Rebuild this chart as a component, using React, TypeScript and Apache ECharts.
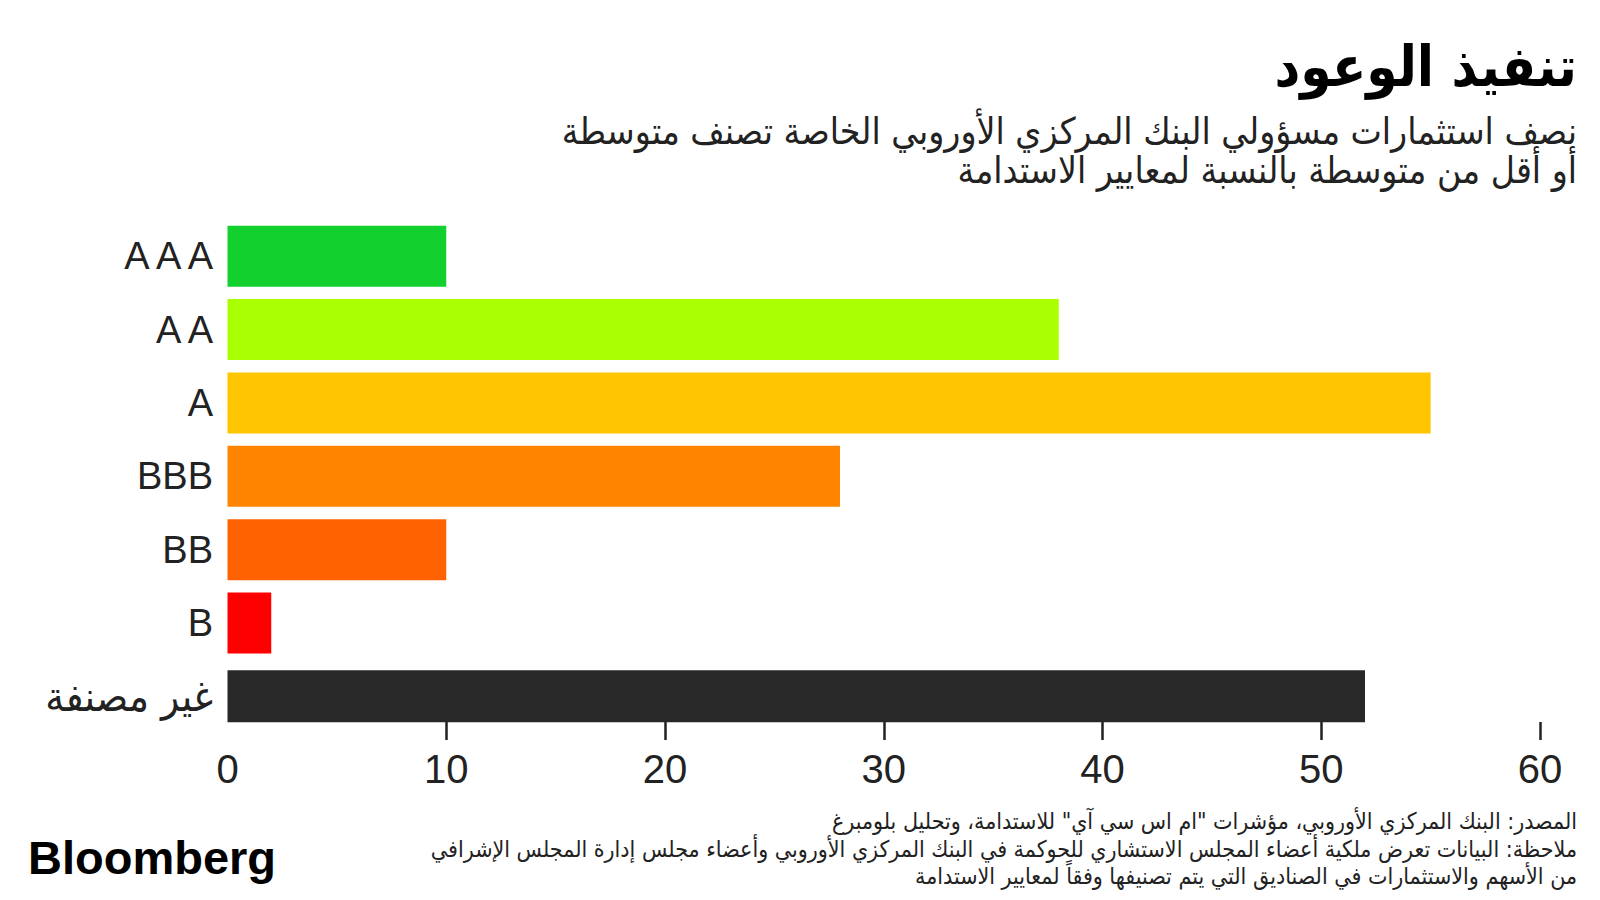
import React, { useEffect, useRef } from "react";
import * as echarts from "echarts";

const categories = ["A A A", "A A", "A", "BBB", "BB", "B", "غير مصنفة"];
const values = [10, 38, 55, 28, 10, 2, 52];
const barColors = ["#12d12f", "#aaff00", "#ffc500", "#ff8500", "#ff6200", "#ff0000", "#282828"];
const unratedCategory = "غير مصنفة";
const tickValues = [0, 10, 20, 30, 40, 50, 60];

const titleText = "تنفيذ الوعود";
const subtitleLines = [
  "نصف استثمارات مسؤولي البنك المركزي الأوروبي الخاصة تصنف متوسطة",
  "أو أقل من متوسطة بالنسبة لمعايير الاستدامة",
];
const footerLines = [
  "المصدر: البنك المركزي الأوروبي، مؤشرات \"ام اس سي آي\" للاستدامة، وتحليل بلومبرغ",
  "ملاحظة: البيانات تعرض ملكية أعضاء المجلس الاستشاري للحوكمة في البنك المركزي الأوروبي وأعضاء مجلس إدارة المجلس الإشرافي",
  "من الأسهم والاستثمارات في الصناديق التي يتم تصنيفها وفقاً لمعايير الاستدامة",
];

const AR_FONT = "'DejaVu Sans Condensed', 'DejaVu Sans', sans-serif";
const LAT_FONT = "'Liberation Sans', Arial, sans-serif";

export default function App() {
  const ref = useRef<HTMLDivElement>(null);
  useEffect(() => {
    document.body.style.margin = "0";
    if (!ref.current) return;
    const chart = echarts.init(ref.current, null, { renderer: "svg" });

    const ratedData = categories.map((c, i) =>
      c === unratedCategory ? "-" : { value: values[i], itemStyle: { color: barColors[i] } }
    );
    const unratedData = categories.map((c, i) =>
      c === unratedCategory ? { value: values[i], itemStyle: { color: barColors[i] } } : "-"
    );

    const graphics: any[] = [
      {
        type: "text",
        x: 1577,
        y: 66,
        style: {
          text: titleText,
          font: `bold 56px ${AR_FONT}`,
          fill: "#000",
          textAlign: "right",
          textVerticalAlign: "middle",
        },
      },
      ...subtitleLines.map((t, i) => ({
        type: "text",
        x: 1577,
        y: 131 + i * 39,
        style: {
          text: t,
          font: `37px ${AR_FONT}`,
          fill: "#222",
          textAlign: "right",
          textVerticalAlign: "middle",
        },
      })),
      ...footerLines.map((t, i) => ({
        type: "text",
        x: 1577,
        y: 821 + i * 27.5,
        style: {
          text: t,
          font: `23px ${AR_FONT}`,
          fill: "#222",
          textAlign: "right",
          textVerticalAlign: "middle",
        },
      })),
      {
        type: "text",
        x: 28,
        y: 857,
        style: {
          text: "Bloomberg",
          font: `bold 47px ${LAT_FONT}`,
          fill: "#000",
          textAlign: "left",
          textVerticalAlign: "middle",
        },
      },
    ];

    chart.setOption({
      animation: false,
      backgroundColor: "#fff",
      grid: { left: 227.5, right: 60, top: 219.6, bottom: 167, containLabel: false },
      xAxis: {
        type: "value",
        min: tickValues[0],
        max: tickValues[tickValues.length - 1],
        interval: 10,
        offset: -11,
        axisLine: { show: false },
        splitLine: { show: false },
        axisTick: {
          show: true,
          length: 18,
          lineStyle: { color: "#222", width: 2.5 },
          customValues: tickValues.slice(1),
        },
        axisLabel: {
          margin: 27,
          color: "#222",
          fontSize: 40,
          fontFamily: LAT_FONT,
          customValues: tickValues,
        },
      },
      yAxis: [
        {
          type: "category",
          data: categories,
          inverse: true,
          axisLine: { show: false },
          axisTick: { show: false },
          axisLabel: {
            margin: 14.5,
            color: "#222",
            fontSize: 38,
            fontFamily: LAT_FONT,
            formatter: (v: string) => (v === unratedCategory ? `{ar|${v}}` : v),
            rich: {
              ar: { fontSize: 42, fontFamily: AR_FONT, color: "#222" },
            },
          },
        },
        {
          type: "category",
          data: categories,
          inverse: true,
          show: false,
        },
      ],
      series: [
        {
          type: "bar",
          yAxisIndex: 0,
          barWidth: 61,
          data: ratedData,
        },
        {
          type: "bar",
          yAxisIndex: 1,
          barWidth: 52,
          data: unratedData,
        },
      ],
      graphic: graphics,
    });

    return () => chart.dispose();
  }, []);
  return <div ref={ref} style={{ width: 1600, height: 900 }} />;
}
